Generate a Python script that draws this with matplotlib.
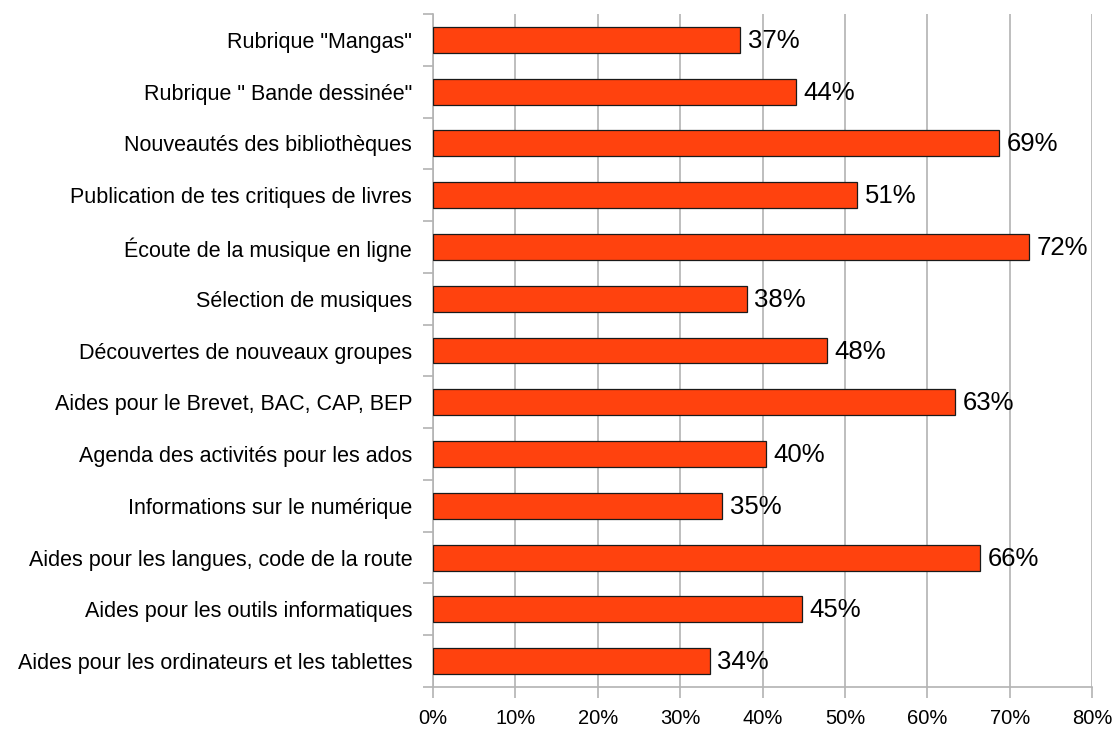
import matplotlib.pyplot as plt
import numpy as np

plt.rcParams['font.family'] = ['Liberation Sans', 'DejaVu Sans']

# Data (top to bottom as displayed)
categories = [
    'Rubrique "Mangas"',
    'Rubrique " Bande dessinée"',
    'Nouveautés des bibliothèques',
    'Publication de tes critiques de livres',
    'Écoute de la musique en ligne',
    'Sélection de musiques',
    'Découvertes de nouveaux groupes',
    'Aides pour le Brevet, BAC, CAP, BEP',
    'Agenda des activités pour les ados',
    'Informations sur le numérique',
    'Aides pour les langues, code de la route',
    'Aides pour les outils informatiques',
    'Aides pour les ordinateurs et les tablettes',
]
# bar lengths (%)
values = [37.3, 44.1, 68.7, 51.5, 72.4, 38.1, 47.8, 63.4, 40.4, 35.1, 66.4, 44.8, 33.6]
# value labels as printed on the chart
value_labels = ['37%', '44%', '69%', '51%', '72%', '38%', '48%', '63%', '40%', '35%', '66%', '45%', '34%']
xticks = [0, 10, 20, 30, 40, 50, 60, 70, 80]

grid_col = '#b3b3b3'

fig = plt.figure(figsize=(11.14, 7.29), dpi=100)
ax = fig.add_axes([0.3887, 0.0576, 0.9803 - 0.3887, 0.9808 - 0.0576])

y = np.arange(len(categories))
ax.barh(y, values, height=0.5, color='#ff420e', edgecolor='#1a1a1a', linewidth=0.9, zorder=3)

for yi, v, lab in zip(y, values, value_labels):
    ax.text(v + 0.9, yi + 0.02, lab, va='center', ha='left', fontsize=18.5, color='black', zorder=4)

ax.set_xlim(0, 80)
ax.set_ylim(len(categories) - 0.5, -0.5)

ax.set_xticks(xticks)
ax.set_xticklabels([f'{t}%' for t in xticks], fontsize=14.5)
ax.xaxis.grid(True, color=grid_col, linewidth=1.2, zorder=0)

# category labels at bar centres, tick marks between categories
ax.set_yticks(y)
ax.set_yticklabels(categories, fontsize=15.5)
ax.tick_params(axis='y', which='major', length=0, pad=15)
ax.set_yticks(np.arange(len(categories) + 1) - 0.5, minor=True)
ax.tick_params(axis='y', which='minor', length=7.5, color=grid_col, width=1.2)
ax.tick_params(axis='x', length=8, color=grid_col, width=1.2, pad=7.5)

for side in ['top', 'right']:
    ax.spines[side].set_visible(False)
for side in ['left', 'bottom']:
    ax.spines[side].set_color(grid_col)
    ax.spines[side].set_linewidth(1.2)

plt.savefig('out.png', dpi=100)
